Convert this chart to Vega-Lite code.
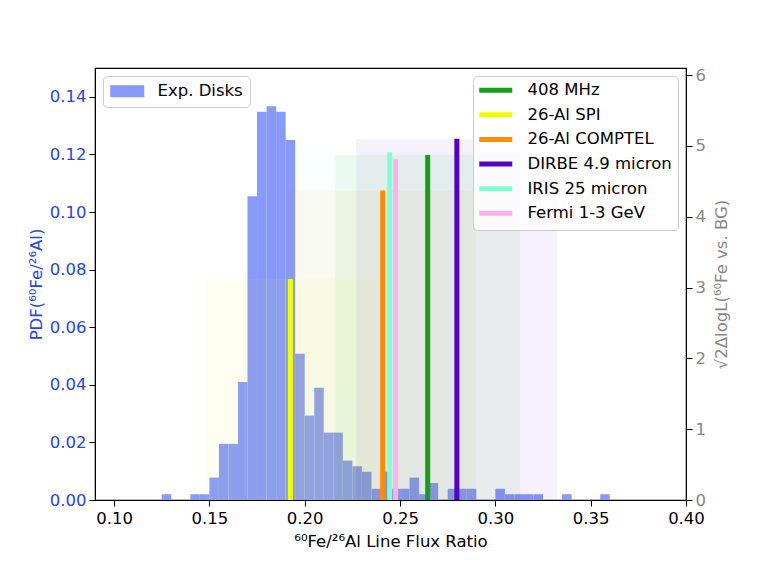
{
  "$schema": "https://vega.github.io/schema/vega-lite/v6.json",
  "width": 591,
  "height": 432,
  "autosize": {"type": "none"},
  "padding": {"left": 95, "top": 68, "right": 77, "bottom": 72},
  "background": "white",
  "config": {
    "font": "DejaVu Sans",
    "view": {"stroke": "black", "strokeWidth": 1.2},
    "axis": {
      "grid": false,
      "domainColor": "black",
      "tickColor": "black",
      "tickSize": 6,
      "labelFontSize": 16.5,
      "titleFontSize": 16.5,
      "titleFontWeight": "normal",
      "labelFont": "DejaVu Sans",
      "titleFont": "DejaVu Sans",
      "labelFlush": false,
      "labelOverlap": false
    },
    "legend": {
      "labelFont": "DejaVu Sans",
      "labelFontSize": 16.5,
      "labelColor": "black"
    }
  },
  "datasets": {
    "hist": [
      {"start": 0.125, "end": 0.130, "pdf": 0.002},
      {"start": 0.140, "end": 0.145, "pdf": 0.002},
      {"start": 0.145, "end": 0.150, "pdf": 0.002},
      {"start": 0.150, "end": 0.155, "pdf": 0.0078},
      {"start": 0.155, "end": 0.160, "pdf": 0.0195},
      {"start": 0.160, "end": 0.165, "pdf": 0.0195},
      {"start": 0.165, "end": 0.170, "pdf": 0.041},
      {"start": 0.170, "end": 0.175, "pdf": 0.1055},
      {"start": 0.175, "end": 0.180, "pdf": 0.1348},
      {"start": 0.180, "end": 0.185, "pdf": 0.1367},
      {"start": 0.185, "end": 0.190, "pdf": 0.1348},
      {"start": 0.190, "end": 0.195, "pdf": 0.125},
      {"start": 0.195, "end": 0.200, "pdf": 0.0508},
      {"start": 0.200, "end": 0.205, "pdf": 0.0293},
      {"start": 0.205, "end": 0.210, "pdf": 0.039},
      {"start": 0.210, "end": 0.215, "pdf": 0.0234},
      {"start": 0.215, "end": 0.220, "pdf": 0.0234},
      {"start": 0.220, "end": 0.225, "pdf": 0.0137},
      {"start": 0.225, "end": 0.230, "pdf": 0.0117},
      {"start": 0.230, "end": 0.235, "pdf": 0.0098},
      {"start": 0.235, "end": 0.240, "pdf": 0.0039},
      {"start": 0.240, "end": 0.245, "pdf": 0.0098},
      {"start": 0.245, "end": 0.250, "pdf": 0.0039},
      {"start": 0.250, "end": 0.255, "pdf": 0.0039},
      {"start": 0.255, "end": 0.260, "pdf": 0.0078},
      {"start": 0.260, "end": 0.265, "pdf": 0.002},
      {"start": 0.265, "end": 0.270, "pdf": 0.0059},
      {"start": 0.275, "end": 0.280, "pdf": 0.0039},
      {"start": 0.280, "end": 0.285, "pdf": 0.0039},
      {"start": 0.285, "end": 0.290, "pdf": 0.0039},
      {"start": 0.300, "end": 0.305, "pdf": 0.0039},
      {"start": 0.305, "end": 0.310, "pdf": 0.002},
      {"start": 0.310, "end": 0.315, "pdf": 0.002},
      {"start": 0.315, "end": 0.320, "pdf": 0.002},
      {"start": 0.320, "end": 0.325, "pdf": 0.002},
      {"start": 0.335, "end": 0.340, "pdf": 0.002},
      {"start": 0.355, "end": 0.360, "pdf": 0.002}
    ],
    "src": [
      {"name": "408 MHz", "pos": 0.2645, "sig": 4.87, "lo": 0.2161, "hi": 0.313},
      {"name": "26-Al SPI", "pos": 0.1925, "sig": 3.12, "lo": 0.1477, "hi": 0.2369},
      {"name": "26-Al COMPTEL", "pos": 0.2409, "sig": 4.37, "lo": 0.192, "hi": 0.290},
      {"name": "DIRBE 4.9 micron", "pos": 0.2798, "sig": 5.10, "lo": 0.227, "hi": 0.3323},
      {"name": "IRIS 25 micron", "pos": 0.2446, "sig": 4.91, "lo": 0.1958, "hi": 0.290},
      {"name": "Fermi 1-3 GeV", "pos": 0.2477, "sig": 4.81, "lo": null, "hi": null}
    ]
  },
  "layer": [
    {
      "data": {"name": "hist"},
      "mark": {"type": "rect", "strokeWidth": 0},
      "encoding": {
        "x": {
          "field": "start", "type": "quantitative",
          "scale": {"domain": [0.09, 0.40], "nice": false, "zero": false},
          "axis": {
            "values": [0.10, 0.15, 0.20, 0.25, 0.30, 0.35, 0.40],
            "format": ".2f",
            "labelPadding": 4,
            "titlePadding": 7,
            "title": "⁶⁰Fe/²⁶Al Line Flux Ratio"
          }
        },
        "x2": {"field": "end"},
        "y": {
          "field": "pdf", "type": "quantitative",
          "scale": {"domain": [0, 0.15], "nice": false},
          "axis": {
            "orient": "left",
            "values": [0, 0.02, 0.04, 0.06, 0.08, 0.10, 0.12, 0.14],
            "format": ".2f",
            "labelColor": "#2244ff",
            "titleColor": "#2244ff",
            "labelPadding": 3,
            "titlePadding": 5,
            "title": "PDF(⁶⁰Fe/²⁶Al)"
          }
        },
        "y2": {"datum": 0},
        "fill": {
          "datum": "Exp. Disks", "type": "nominal",
          "scale": {"range": ["#8799fb"]},
          "legend": {
            "orient": "none", "legendX": 8, "legendY": 8,
            "title": null,
            "symbolType": "M-1,-0.75L3.25,-0.75L3.25,0.75L-1,0.75Z",
            "symbolSize": 256,
            "symbolStrokeWidth": 0,
            "symbolOpacity": 1,
            "labelOffset": 31,
            "padding": 7,
            "fillColor": "rgba(255,255,255,0.8)",
            "strokeColor": "#cccccc",
            "cornerRadius": 4
          }
        }
      }
    },
    {
      "data": {"name": "src"},
      "layer": [
        {
          "transform": [{"filter": "isValid(datum.lo)"}],
          "mark": {"type": "rect", "fillOpacity": 0.055, "strokeWidth": 0},
          "encoding": {
            "x": {"field": "lo", "type": "quantitative"},
            "x2": {"field": "hi"},
            "y": {
              "field": "sig", "type": "quantitative",
              "scale": {"domain": [0, 6.1], "nice": false},
              "axis": {
                "orient": "right",
                "values": [0, 1, 2, 3, 4, 5, 6],
                "format": "d",
                "labelColor": "#888888",
                "titleColor": "#888888",
                "labelPadding": 3,
                "titlePadding": 8,
                "titleAngle": 270,
                "titleBaseline": "top",
                "title": "√2ΔlogL(⁶⁰Fe vs. BG)"
              }
            },
            "y2": {"datum": 0},
            "color": {
              "field": "name", "type": "nominal",
              "scale": {
                "domain": ["408 MHz", "26-Al SPI", "26-Al COMPTEL", "DIRBE 4.9 micron", "IRIS 25 micron", "Fermi 1-3 GeV"],
                "range": ["#14a014", "#f0ff00", "#ff8c00", "#5500c8", "#7fffd4", "#ffb0e8"]
              }
            }
          }
        },
        {
          "mark": {"type": "rule", "strokeWidth": 5, "strokeCap": "butt"},
          "encoding": {
            "x": {"field": "pos", "type": "quantitative"},
            "y": {"field": "sig", "type": "quantitative"},
            "y2": {"datum": 0},
            "color": {
              "field": "name", "type": "nominal",
              "legend": {
                "orient": "none", "legendX": 378, "legendY": 8,
                "title": null,
                "symbolType": "M-1.6,0L5,0",
                "symbolSize": 100,
                "symbolStrokeWidth": 5,
                "symbolOpacity": 1,
                "symbolFillColor": "transparent",
                "labelOffset": 32,
                "labelLimit": 400,
                "padding": 6,
                "rowPadding": 3.6,
                "fillColor": "rgba(255,255,255,0.8)",
                "strokeColor": "#cccccc",
                "cornerRadius": 4
              }
            }
          }
        }
      ]
    }
  ],
  "resolve": {"scale": {"y": "independent"}}
}
